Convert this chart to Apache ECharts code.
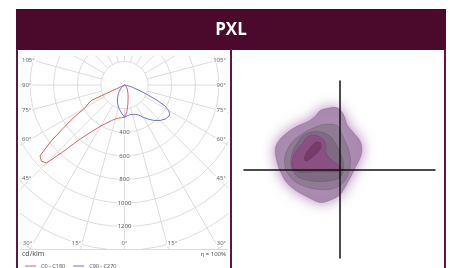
<!DOCTYPE html>
<html>
<head>
<meta charset="utf-8">
<script src="https://cdn.jsdelivr.net/npm/echarts@6/dist/echarts.min.js"></script>
<style>
  html, body { margin: 0; padding: 0; background: #fff; }
  #main { width: 450px; height: 268px; }
</style>
</head>
<body>
<div id="main"></div>
<script>
// polar diagram, C0-C180 plane (negative angle = C180 side, left)
var redAngles = [-90, -70, -65, -62.5, -60, -57.5, -55, -52.5, -50, -47.5, -45, -42.5, -40, -37.5, -35, -30, -25, -20, -15, -10, -5, 0, 5, 10, 15, 20, 25, 30, 40, 50, 60, 70, 80, 90];
var redValues = [0, 0, 310, 348, 385, 505, 628, 790, 935, 955, 935, 760, 617, 535, 480, 400, 355, 320, 298, 285, 278, 274, 228, 165, 118, 88, 66, 50, 32, 20, 12, 6, 2, 0];
// C90-C270 plane (negative angle = C270 side, left)
var blueAngles = [-90, -70, -60, -50, -45, -40, -35, -30, -25, -20, -15, -10, -5, 0, 5, 10, 15, 20, 25, 30, 35, 40, 45, 50, 55, 57.5, 60, 62.5, 65, 67.5, 70, 75, 80, 90];
var blueValues = [0, 5, 15, 35, 50, 68, 90, 115, 142, 170, 195, 218, 245, 272, 262, 256, 258, 264, 280, 315, 355, 392, 425, 450, 460, 455, 430, 390, 300, 200, 130, 60, 20, 0];

var radiusLabels = [400, 600, 800, 1000, 1200];
var sideAngleLabels = [105, 90, 75, 60, 45];
var bottomAngleLabels = [30, 15, 0];
var seriesNames = ['C0 - C180', 'C90 - C270'];

// isolux levels (outer -> inner), x/y in plot units
var levelA = [[-1.26, 6.1], [-0.26, 6.17], [0.4, 5.5], [0.74, 4.5], [1.4, 3.67], [2.07, 2.83], [2.24, 2.0], [2.07, 1.17], [1.57, 0.17], [1.07, -0.83], [0.57, -1.73], [0.07, -2.5], [-0.76, -3.0], [-1.93, -3.3], [-3.1, -2.8], [-4.26, -2.17], [-5.26, -1.33], [-5.93, -0.17], [-6.26, 0.83], [-6.43, 2.0], [-6.1, 2.83], [-5.26, 3.67], [-4.26, 4.33], [-3.1, 4.83], [-2.43, 5.33], [-1.93, 5.9]];
var levelB = [[-1.6, 4.5], [-0.26, 4.4], [0.3, 3.4], [0.9, 2.0], [1.1, 0.83], [0.9, -0.4], [0.3, -1.4], [-0.76, -1.95], [-2.1, -2.0], [-3.43, -1.7], [-4.6, -1.1], [-5.3, -0.17], [-5.5, 0.83], [-5.3, 1.83], [-4.6, 2.9], [-3.43, 3.75], [-2.4, 4.25]];
var levelC = [[-3.5, 3.5], [-2.1, 3.8], [-0.9, 3.3], [-0.3, 2.4], [0.2, 1.4], [0.4, 0.17], [0.05, -0.8], [-1.1, -1.15], [-2.76, -1.15], [-4.2, -0.7], [-4.85, 0.4], [-4.7, 1.7], [-4.2, 2.7]];
var levelD = [[-3.1, 3.33], [-2.1, 3.33], [-1.43, 2.67], [-1.26, 1.5], [-0.43, 0.67], [0.3, 0.05], [-0.3, -0.2], [-2.1, -0.2], [-3.93, -0.25], [-4.7, 0.17], [-4.55, 1.5], [-3.76, 2.5]];
var levelE = [[-2.26, 2.77], [-1.83, 2.57], [-1.93, 2.0], [-2.6, 1.33], [-3.36, 0.83], [-3.53, 1.17], [-3.1, 2.0], [-2.6, 2.57]];
var levels = [levelA, levelB, levelC, levelD, levelE];
var levelColors = ['#a98cb0', '#8f7c94', '#7f6a84', '#8b5082', '#773a69'];

var maroon = '#4b0a2b';
var gridColor = '#dcdcdc';

function toAxisAngle(a) { return a < 0 ? 360 + a : a; }
function polarData(angles, values) {
	var out = [];
	for (var i = 0; i < angles.length; i++) {
		out.push([values[i], toAxisAngle(angles[i])]);
	}
	return out;
}

var myChart = echarts.init(document.getElementById('main'));

var blobSeries = levels.map(function (pts, i) {
	return {
		type: 'custom',
		coordinateSystem: 'cartesian2d',
		xAxisIndex: 0,
		yAxisIndex: 0,
		silent: true,
		z: 55 + i,
		data: [[0, 0]],
		renderItem: function (params, api) {
			return {
				type: 'polygon',
				shape: { points: pts.map(function (p) { return api.coord(p); }), smooth: 0.35 },
				style: {
					fill: levelColors[i],
					stroke: 'rgba(70,40,70,0.35)',
					lineWidth: 0.6,
					shadowBlur: i === 0 ? 14 : 0,
					shadowColor: 'rgba(150,90,160,0.75)'
				}
			};
		}
	};
});

var option = {
	animation: false,
	polar: [
		{ center: [124.5, 85], radius: [23.6, 212.4] },
		{ center: [124.5, 85], radius: [0, 212.4] }
	],
	angleAxis: [
		{
			polarIndex: 0, type: 'value', min: 0, max: 360, interval: 15,
			startAngle: 270, clockwise: false,
			axisLine: { show: false }, axisTick: { show: false }, axisLabel: { show: false },
			splitLine: { lineStyle: { color: gridColor, width: 1 } }
		},
		{
			polarIndex: 1, type: 'value', min: 0, max: 360,
			startAngle: 270, clockwise: false, show: false
		}
	],
	radiusAxis: [
		{ polarIndex: 0, type: 'value', min: 200, max: 1800, show: false },
		{
			polarIndex: 1, type: 'value', min: 0, max: 1800, interval: 200,
			axisLine: { show: false }, axisTick: { show: false },
			splitLine: { lineStyle: { color: gridColor, width: 1 } },
			axisLabel: {
				margin: 0, align: 'center', verticalAlign: 'middle',
				fontSize: 6, color: '#555', fontFamily: 'Noto Sans',
				backgroundColor: '#fff', padding: [0, 1],
				formatter: function (v) { return radiusLabels.indexOf(v) >= 0 ? String(v) : ''; }
			}
		}
	],
	grid: { left: 244, top: 81, width: 191, height: 177 },
	xAxis: {
		type: 'value', min: -9.55, max: 9.55, z: 62,
		axisLine: { onZero: true, lineStyle: { color: '#111', width: 1.5 } },
		axisTick: { show: false }, axisLabel: { show: false }, splitLine: { show: false }
	},
	yAxis: {
		type: 'value', min: -8.85, max: 8.85, z: 62,
		axisLine: { onZero: true, lineStyle: { color: '#111', width: 1.5 } },
		axisTick: { show: false }, axisLabel: { show: false }, splitLine: { show: false }
	},
	legend: {
		left: 20, top: 258, z: 60,
		icon: 'rect', itemWidth: 11, itemHeight: 1, itemGap: 8,
		textStyle: { fontSize: 5.5, color: '#555', fontFamily: 'Noto Sans' },
		data: seriesNames
	},
	series: [
		{
			name: seriesNames[0], type: 'line', coordinateSystem: 'polar', polarIndex: 1,
			symbol: 'none', color: '#e85c5f', lineStyle: { width: 1 },
			data: polarData(redAngles, redValues)
		},
		{
			name: seriesNames[1], type: 'line', coordinateSystem: 'polar', polarIndex: 1,
			symbol: 'none', color: '#6f6fe6', lineStyle: { width: 1 },
			data: polarData(blueAngles, blueValues)
		}
	].concat(blobSeries)
};
myChart.setOption(option);

var frame = [
	// white covers that crop the polar grid to the left panel
	{ type: 'rect', id: 'cTop', z: 50, shape: { x: 0, y: 0, width: 232, height: 56 }, style: { fill: '#fff' } },
	{ type: 'rect', id: 'cLeft', z: 50, shape: { x: 0, y: 0, width: 20, height: 268 }, style: { fill: '#fff' } },
	{ type: 'rect', id: 'cRight', z: 50, shape: { x: 228, y: 0, width: 222, height: 268 }, style: { fill: '#fff' } },
	{ type: 'rect', id: 'cBottom', z: 50, shape: { x: 0, y: 249, width: 232, height: 19 }, style: { fill: '#fff' } },
	{ type: 'line', id: 'bLine', z: 51, shape: { x1: 20, y1: 249.5, x2: 228, y2: 249.5 }, style: { stroke: gridColor, lineWidth: 1 } },
	// frame
	{ type: 'rect', id: 'head', z: 100, shape: { x: 16, y: 9, width: 430, height: 41 }, style: { fill: maroon } },
	{ type: 'text', id: 'headText', z: 101, x: 231, y: 30, style: { text: 'PXL', fill: '#fff', font: 'bold 17px "Open Sans"', align: 'center', verticalAlign: 'middle' } },
	{ type: 'rect', id: 'bL', z: 100, shape: { x: 16, y: 49, width: 2, height: 219 }, style: { fill: '#5a1842' } },
	{ type: 'rect', id: 'bM', z: 100, shape: { x: 230, y: 49, width: 2, height: 219 }, style: { fill: '#5a1842' } },
	{ type: 'rect', id: 'bR', z: 100, shape: { x: 444, y: 49, width: 2, height: 219 }, style: { fill: '#5a1842' } },
	{ type: 'text', id: 'unit', z: 70, x: 22, y: 254, style: { text: 'cd/klm', fill: '#555', font: '7px "Noto Sans"', align: 'left', verticalAlign: 'middle' } },
	{ type: 'text', id: 'eta', z: 70, x: 226, y: 254, style: { text: 'η = 100%', fill: '#555', font: '6px "Noto Sans"', align: 'right', verticalAlign: 'middle' } }
];

// angle labels: height taken where each ray crosses the label column
var c = myChart.convertToPixel({ seriesIndex: 0 }, [0, 0]);
var n = 0;
sideAngleLabels.forEach(function (a) {
	[-1, 1].forEach(function (s) {
		var p = myChart.convertToPixel({ seriesIndex: 0 }, [1000, toAxisAngle(s * a)]);
		var xe = c[0] + s * 93.5;
		var t = (xe - c[0]) / (p[0] - c[0]);
		var y = c[1] + t * (p[1] - c[1]);
		frame.push({ type: 'text', id: 'al' + (n++), z: 70, x: s < 0 ? 21 : 227, y: y, style: {
			text: a + '°', fill: '#666', font: '6px "Noto Sans"', backgroundColor: '#fff', padding: [0, 1],
			align: s < 0 ? 'left' : 'right', verticalAlign: 'middle' } });
	});
});
bottomAngleLabels.forEach(function (a) {
	[-1, 1].forEach(function (s) {
		if (a === 0 && s > 0) return;
		var p = myChart.convertToPixel({ seriesIndex: 0 }, [1000, toAxisAngle(s * a)]);
		var ye = 243;
		var t = (ye - c[1]) / (p[1] - c[1]);
		var x = c[0] + t * (p[0] - c[0]);
		frame.push({ type: 'text', id: 'al' + (n++), z: 70, x: x, y: ye, style: {
			text: a + '°', fill: '#666', font: '6px "Noto Sans"', backgroundColor: '#fff', padding: [0, 1],
			align: a === 0 ? 'center' : (s < 0 ? 'right' : 'left'), verticalAlign: 'middle' } });
	});
});
myChart.setOption({ graphic: { elements: frame } });
</script>
</body>
</html>
